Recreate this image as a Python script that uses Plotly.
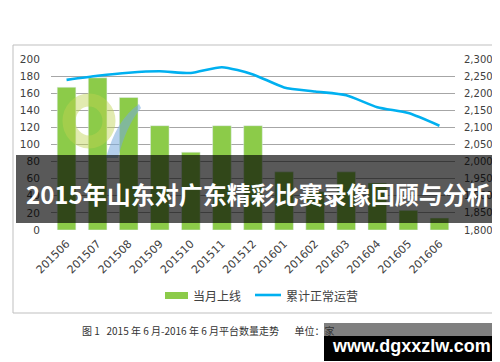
import plotly.graph_objects as go

months = ["201506", "201507", "201508", "201509", "201510", "201511", "201512",
          "201601", "201602", "201603", "201604", "201605", "201606"]
monthly_new = [167, 178, 155, 122, 91, 122, 122, 68, 45, 68, 55, 23, 14]
cumulative = [2239, 2251, 2260, 2264, 2259, 2276, 2255, 2217, 2205, 2194, 2159, 2142, 2105]
bar_name = "当月上线"
line_name = "累计正常运营"
left_ticks = list(range(0, 201, 20))
right_ticks = list(range(1800, 2301, 50))

W, H = 500, 362
L, R, T, B = 43, 447, 51, 222


def px(x):
    return (x - L) / (R - L)


def py(y):
    return (B - y) / (B - T)


BAR = "#8CCB49"
LINE = "#00B0F0"
CJK = "Noto Sans CJK SC"
NUM = "DejaVu Sans"
CLEAR = "rgba(0,0,0,0)"

fig = go.Figure()
fig.add_trace(go.Bar(x=months, y=monthly_new, name=bar_name, marker_color=BAR,
                     width=0.6, yaxis="y", showlegend=False))
fig.add_trace(go.Scatter(x=months, y=cumulative, name=line_name, mode="lines",
                         line=dict(color=LINE, width=2.6, shape="spline", smoothing=0.6),
                         yaxis="y2", showlegend=False))

fig.update_layout(
    width=W, height=H,
    margin=dict(l=L, r=W - R, t=T, b=H - B),
    paper_bgcolor="white", plot_bgcolor="white",
    xaxis=dict(type="category", tickangle=-45, showgrid=False, showline=False,
               ticks="outside", ticklen=2, tickcolor=CLEAR,
               tickfont=dict(family=NUM, size=11, color="#404040")),
    yaxis=dict(range=[0, 200], tickvals=left_ticks, showgrid=True, gridcolor="#A6A6A6",
               gridwidth=1, zeroline=False, showline=False, ticks="outside", ticklen=8,
               tickcolor=CLEAR, tickfont=dict(family=NUM, size=10.5, color="#404040")),
    yaxis2=dict(range=[1800, 2300], tickvals=right_ticks, tickformat=",", overlaying="y",
                side="right", showgrid=False, zeroline=False, showline=False, ticks="outside",
                ticklen=6, tickcolor=CLEAR, tickfont=dict(family=NUM, size=10, color="#404040")),
    bargap=0.4,
)

shapes = []
annotations = []

# outer chart border
shapes.append(dict(type="rect", xref="paper", yref="paper", x0=px(5), x1=px(496), y0=py(37), y1=py(305),
                   line=dict(color="#BFBFBF", width=1), fillcolor=CLEAR, layer="below"))

# faint watermark logo (ring + blue slash)
shapes.append(dict(type="circle", xref="paper", yref="paper", x0=px(61), x1=px(101), y0=py(92), y1=py(134),
                   line=dict(color="rgba(190,210,80,0.45)", width=13), fillcolor=CLEAR, layer="above"))
shapes.append(dict(type="path", xref="paper", yref="paper",
                   path=f"M {px(131)} {py(96)} Q {px(108)} {py(112)} {px(98)} {py(150)} L {px(110)} {py(150)} Q {px(118)} {py(118)} {px(133)} {py(100)} Z",
                   fillcolor="rgba(120,170,220,0.55)", line=dict(width=0), layer="above"))

# legend (custom)
shapes.append(dict(type="rect", xref="paper", yref="paper", x0=px(157), x1=px(180), y0=py(284), y1=py(291),
                   fillcolor=BAR, line=dict(width=0)))
shapes.append(dict(type="line", xref="paper", yref="paper", x0=px(247), x1=px(273), y0=py(287), y1=py(287),
                   line=dict(color=LINE, width=2.6)))
annotations.append(dict(text=bar_name, xref="paper", yref="paper", x=px(183), y=py(287), xanchor="left",
                        yanchor="middle", showarrow=False, font=dict(family=CJK, size=12, color="#404040")))
annotations.append(dict(text=line_name, xref="paper", yref="paper", x=px(276), y=py(287), xanchor="left",
                        yanchor="middle", showarrow=False, font=dict(family=CJK, size=12, color="#404040")))

# caption
nb = "\u00a0"
caption = f"图{nb}1{nb*3}2015{nb}年{nb}6{nb}月-2016{nb}年{nb}6{nb}月平台数量走势{nb*7}单位：家"
annotations.append(dict(text=caption, xref="paper", yref="paper", x=px(72), y=py(322), xanchor="left",
                        yanchor="middle", showarrow=False, font=dict(family=CJK, size=10, color="#333333")))

# dark banner over the chart
shapes.append(dict(type="rect", xref="paper", yref="paper", x0=px(8), x1=px(493), y0=py(147), y1=py(215),
                   fillcolor="rgba(0,0,0,0.65)", line=dict(width=0), layer="above"))
annotations.append(dict(text="<b>2015年山东对广东精彩比赛录像回顾与分析</b>", xref="paper", yref="paper",
                        x=px(250), y=py(185), xanchor="center", yanchor="middle", showarrow=False,
                        font=dict(family=CJK, size=24, color="white")))

# site watermark box
shapes.append(dict(type="rect", xref="paper", yref="paper", x0=px(316), x1=px(491), y0=py(315), y1=py(328),
                   fillcolor="#7F7F7F", line=dict(width=0), layer="above"))
shapes.append(dict(type="rect", xref="paper", yref="paper", x0=px(316), x1=px(491), y0=py(328), y1=py(353),
                   fillcolor="#000000", line=dict(width=0), layer="above"))
annotations.append(dict(text="<b>www.dgxxzlw.com</b>", xref="paper", yref="paper", x=px(403), y=py(338),
                        xanchor="center", yanchor="middle", showarrow=False,
                        font=dict(family="Liberation Sans", size=18, color="white")))

fig.update_layout(shapes=shapes, annotations=annotations)
fig.write_html("out.html")
